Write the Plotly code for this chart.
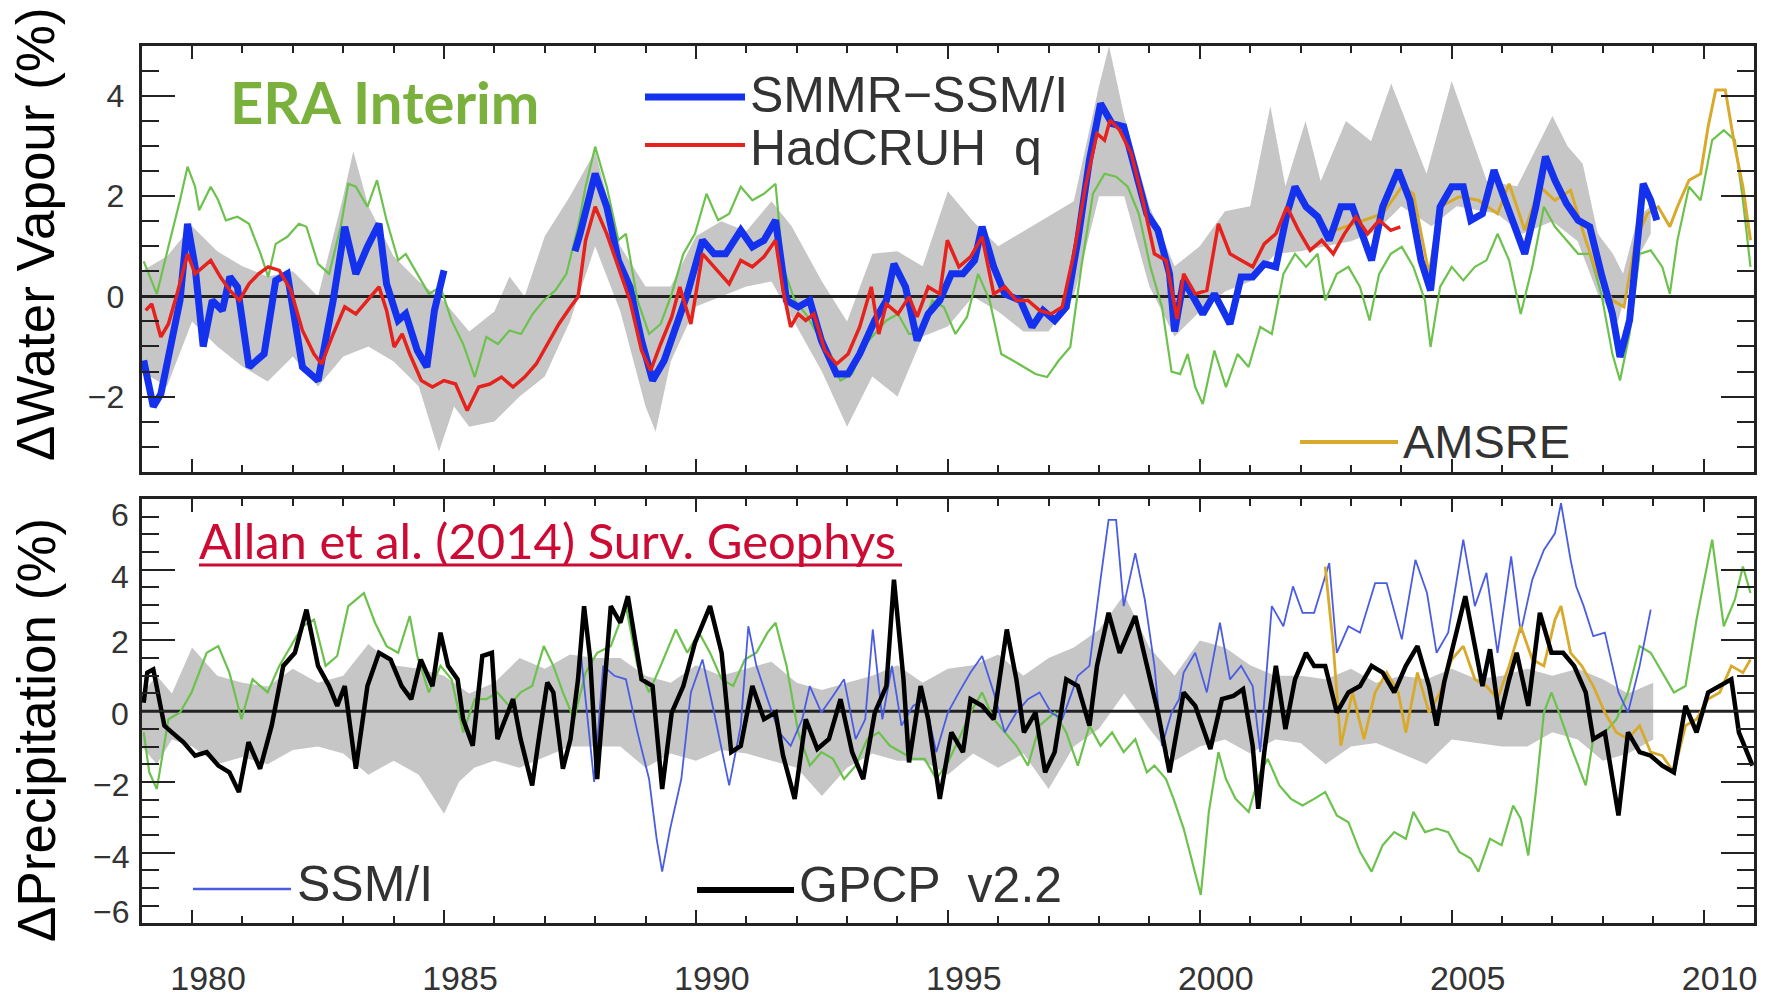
import plotly.graph_objects as go

# ---------------- DATA ----------------
# Top panel: water vapour anomalies (%)
wv_smmr_x = [1979.04, 1979.23, 1979.38, 1979.53, 1979.76, 1979.91, 1980.06, 1980.22, 1980.40, 1980.60, 1980.75, 1980.90,
             1981.13, 1981.43, 1981.66, 1981.89, 1982.19, 1982.50, 1982.80, 1983.03, 1983.25, 1983.48, 1983.71, 1983.86,
             1984.09, 1984.24, 1984.47, 1984.66, 1984.81, 1985.00, None,
             1987.60, 1987.70, 1988.00, 1988.23, 1988.46, 1988.69, 1988.92, 1989.14, 1989.37, 1989.60, 1989.83, 1990.13,
             1990.36, 1990.59, 1990.89, 1991.12, 1991.35, 1991.58, 1991.80, 1992.03, 1992.26, 1992.49, 1992.79, 1993.02,
             1993.25, 1993.55, 1993.78, 1993.93, 1994.16, 1994.39, 1994.61, 1994.84, 1995.07, 1995.30, 1995.53, 1995.68,
             1995.91, 1996.13, 1996.44, 1996.67, 1996.89, 1997.12, 1997.35, 1997.58, 1997.81, 1998.03, 1998.26, 1998.49,
             1998.72, 1998.95, 1999.17, 1999.40, 1999.50, 1999.68, 1999.91, 2000.06, 2000.29, 2000.60, 2000.82, 2001.05,
             2001.28, 2001.51, 2001.73, 2001.89, 2002.11, 2002.34, 2002.57, 2002.80, 2003.03, 2003.26, 2003.41, 2003.63,
             2003.94, 2004.17, 2004.39, 2004.58, 2004.77, 2005.00, 2005.23, 2005.38, 2005.61, 2005.84, 2006.07, 2006.29,
             2006.45, 2006.67, 2006.86, 2007.05, 2007.28, 2007.51, 2007.74, 2007.97, 2008.19, 2008.34, 2008.53, 2008.69,
             2008.80, 2008.95, 2009.07]
wv_smmr_y = [-1.28, -2.2, -1.95, -1.15, -0.08, 1.45, 0.59, -1.0, -0.08, -0.28, 0.39, 0.19,
             -1.41, -1.15, 0.32, 0.45, -1.41, -1.68, -0.08, 1.39, 0.45, 0.99, 1.45, 0.25,
             -0.48, -0.35, -1.08, -1.41, -0.28, 0.52, None,
             0.9, 1.25, 2.45, 1.79, 0.72, 0.19, -0.88, -1.68, -1.28, -0.61, 0.05, 1.12,
             0.85, 0.85, 1.32, 0.99, 1.12, 1.52, -0.08, -0.21, -0.08, -0.88, -1.55, -1.55,
             -1.15, -0.48, -0.08, 0.65, 0.19, -0.88, -0.35, -0.08, 0.45, 0.45, 0.72, 1.39,
             0.59, 0.05, -0.08, -0.61, -0.28, -0.48, -0.21, 1.12, 2.72, 3.85, 3.45, 3.39,
             2.45, 1.65, 1.32, 0.45, -0.70, 0.32, -0.08, -0.35, 0.05, -0.55, 0.39, 0.39,
             0.65, 0.59, 1.65, 2.19, 1.79, 1.59, 1.12, 1.79, 1.79, 1.12, 0.72, 1.79,
             2.52, 1.92, 0.72, 0.12, 1.79, 2.19, 2.19, 1.52, 1.65, 2.52, 1.92, 1.25,
             0.85, 1.79, 2.79, 2.32, 1.85, 1.52, 1.39, 0.45, -0.35, -1.21, -0.48, 1.12,
             2.25, 1.92, 1.52]

wv_hadcruh_x = [1979.08, 1979.20, 1979.38, 1979.53, 1979.72, 1979.91, 1980.06, 1980.22, 1980.37, 1980.56, 1980.75, 1980.94,
                1981.13, 1981.32, 1981.51, 1981.73, 1981.96, 1982.19, 1982.42, 1982.57, 1982.80, 1983.03, 1983.25, 1983.48,
                1983.71, 1983.86, 1984.01, 1984.17, 1984.32, 1984.55, 1984.77, 1985.00, 1985.23, 1985.46, 1985.69, 1985.91,
                1986.14, 1986.37, 1986.60, 1986.83, 1987.05, 1987.28, 1987.51, 1987.66, 1987.81, 1988.00, 1988.23, 1988.46,
                1988.69, 1988.92, 1989.10, 1989.30, 1989.52, 1989.68, 1989.90, 1990.13, 1990.36, 1990.66, 1990.89, 1991.12,
                1991.35, 1991.58, 1991.73, 1991.88, 1992.03, 1992.18, 1992.34, 1992.56, 1992.79, 1993.02, 1993.25, 1993.48,
                1993.63, 1993.78, 1994.01, 1994.23, 1994.39, 1994.61, 1994.84, 1994.99, 1995.22, 1995.45, 1995.68, 1995.91,
                1996.13, 1996.36, 1996.59, 1996.82, 1997.05, 1997.27, 1997.50, 1997.73, 1997.96, 1998.11, 1998.22, 1998.41,
                1998.64, 1998.87, 1999.10, 1999.33, 1999.55, 1999.68, 1999.91, 2000.14, 2000.37, 2000.60, 2000.82, 2001.05,
                2001.28, 2001.51, 2001.73, 2001.96, 2002.19, 2002.42, 2002.65, 2002.87, 2003.10, 2003.33, 2003.56, 2003.79,
                2003.98]
wv_hadcruh_y = [-0.28, -0.15, -0.81, -0.55, 0.12, 0.85, 0.45, 0.59, 0.72, 0.39, 0.12, -0.08,
                0.25, 0.45, 0.59, 0.52, 0.12, -0.68, -1.15, -1.35, -0.75, -0.21, -0.35, -0.08,
                0.19, -0.28, -1.01, -0.75, -1.15, -1.68, -1.81, -1.68, -1.75, -2.28, -1.81, -1.75,
                -1.61, -1.81, -1.61, -1.35, -0.95, -0.55, -0.21, -0.01, 1.12, 1.79, 1.25, 0.59,
                -0.08, -1.08, -1.48, -0.95, -0.41, 0.19, -0.55, 0.85, 0.59, 0.25, 0.72, 0.59,
                0.79, 1.12, 0.12, -0.61, -0.35, -0.48, -0.35, -1.08, -1.35, -1.15, -0.61, 0.19,
                -0.75, -0.15, -0.35, -0.01, -0.41, 0.19, 0.05, 1.12, 0.59, 0.79, 1.19, 0.05,
                0.19, -0.08, -0.08, -0.28, -0.35, -0.21, 0.85, 2.19, 3.25, 3.12, 3.52, 3.32,
                2.85, 1.92, 0.85, 0.72, -0.45, 0.45, 0.05, 0.12, 1.45, 0.85, 0.72, 0.59,
                1.05, 1.25, 1.79, 1.32, 0.92, 1.12, 0.85, 1.25, 1.59, 1.25, 1.52, 1.32,
                1.39]

wv_era_x = [1979.04, 1979.30, 1979.53, 1979.76, 1979.91, 1980.06, 1980.14, 1980.37, 1980.52, 1980.67, 1980.90, 1981.13,
            1981.36, 1981.51, 1981.66, 1981.89, 1982.12, 1982.27, 1982.50, 1982.72, 1982.95, 1983.10, 1983.25, 1983.48,
            1983.67, 1983.86, 1984.09, 1984.24, 1984.47, 1984.70, 1984.93, 1985.15, 1985.38, 1985.61, 1985.84, 1986.07,
            1986.30, 1986.53, 1986.76, 1986.98, 1987.21, 1987.43, 1987.66, 1987.81, 1988.00, 1988.23, 1988.46, 1988.61,
            1988.84, 1989.07, 1989.30, 1989.52, 1989.75, 1989.98, 1990.21, 1990.44, 1990.66, 1990.89, 1991.12, 1991.35,
            1991.58, 1991.73, 1991.96, 1992.18, 1992.41, 1992.64, 1992.87, 1993.10, 1993.32, 1993.55, 1993.78, 1994.01,
            1994.23, 1994.46, 1994.69, 1994.92, 1995.15, 1995.38, 1995.60, 1995.83, 1996.06, 1996.29, 1996.51, 1996.74,
            1996.97, 1997.20, 1997.43, 1997.65, 1997.88, 1998.11, 1998.34, 1998.57, 1998.79, 1999.02, 1999.25, 1999.44,
            1999.61, 1999.76, 1999.91, 2000.06, 2000.29, 2000.52, 2000.75, 2000.97, 2001.20, 2001.43, 2001.66, 2001.89,
            2002.11, 2002.34, 2002.49, 2002.72, 2002.95, 2003.18, 2003.37, 2003.56, 2003.79, 2004.01, 2004.24, 2004.47,
            2004.58, 2004.77, 2005.00, 2005.23, 2005.46, 2005.69, 2005.91, 2006.14, 2006.37, 2006.60, 2006.83, 2007.05,
            2007.28, 2007.51, 2007.74, 2007.97, 2008.19, 2008.34, 2008.53, 2008.73, 2008.95, 2009.18, 2009.33, 2009.48,
            2009.71, 2009.94, 2010.17, 2010.40, 2010.62, 2010.78, 2010.93]
wv_era_y = [0.70, 0.05, 0.99, 1.92, 2.59, 2.19, 1.72, 2.19, 1.92, 1.52, 1.59, 1.45,
            0.85, 0.39, 1.05, 1.19, 1.45, 1.39, 0.65, 0.45, 1.39, 2.25, 2.19, 1.79,
            2.32, 1.52, 0.72, 0.85, 0.45, 0.05, 0.19, -0.48, -0.95, -1.61, -0.81, -0.95,
            -0.68, -0.75, -0.35, -0.08, 0.12, 0.45, 1.39, 2.19, 2.99, 2.19, 1.12, 1.25,
            -0.08, -0.75, -0.55, 0.05, 0.85, 1.25, 2.05, 1.52, 1.65, 2.19, 1.92, 2.05,
            2.25, 0.59, -0.08, -0.35, -0.75, -1.28, -1.68, -1.55, -1.01, -0.75, -0.48, -0.35,
            -0.75, -0.75, -0.08, -0.21, -0.75, -0.41, 0.45, -0.08, -1.15, -1.28, -1.41, -1.55,
            -1.61, -1.28, -1.01, 0.59, 2.05, 2.45, 2.39, 2.19, 1.65, 0.59, -0.21, -1.50,
            -1.55, -1.15, -1.81, -2.15, -1.08, -1.81, -1.15, -1.41, -0.61, -0.75, 0.45, 0.85,
            0.59, 0.85, -0.08, 0.45, 0.59, 0.19, -0.48, 0.45, 0.85, 0.99, 0.59, -0.08,
            -1.01, 0.19, 0.59, 0.32, 0.59, 0.72, 1.25, 0.72, -0.35, 0.59, 1.79, 1.39,
            1.12, 0.85, 0.85, 0.05, -1.15, -1.68, -0.75, 0.85, 0.92, 0.59, 0.05, 1.12,
            2.19, 1.92, 3.12, 3.32, 3.12, 1.92, 0.59]

wv_amsre_x = [2002.49, 2002.87, 2003.26, 2003.63, 2004.01, 2004.24, 2004.55, 2004.77, 2005.15, 2005.53, 2005.91, 2006.14,
              2006.45, 2006.75, 2007.05, 2007.36, 2007.66, 2007.89, 2008.19, 2008.42, 2008.65, 2008.88, 2009.10, 2009.33,
              2009.48, 2009.71, 2009.94, 2010.09, 2010.24, 2010.43, 2010.62, 2010.78, 2010.93]
wv_amsre_y = [1.25, 1.39, 1.52, 1.65, 2.19, 2.05, 0.45, 1.79, 1.99, 1.92, 1.65, 2.25,
              1.32, 2.19, 1.92, 2.12, 1.12, 0.45, -0.08, -0.21, 1.12, 1.65, 1.79, 1.39,
              1.79, 2.32, 2.45, 3.39, 4.12, 4.12, 2.99, 2.19, 1.12]

wv_model_hi_x = [1979.0, 1979.5, 1980.0, 1980.5, 1981.0, 1981.5, 1982.0, 1982.5, 1983.0, 1983.2, 1983.5, 1984.0,
                 1984.5, 1985.0, 1985.5, 1986.0, 1986.3, 1986.6, 1987.0, 1987.5, 1988.0, 1988.5, 1989.0, 1989.5,
                 1990.0, 1990.5, 1991.0, 1991.5, 1991.9, 1992.5, 1993.0, 1993.5, 1994.0, 1994.5, 1995.0, 1995.5,
                 1996.0, 1996.5, 1997.0, 1997.5, 1998.0, 1998.2, 1998.5, 1999.0, 1999.5, 2000.0, 2000.5, 2001.0,
                 2001.4, 2001.7, 2002.1, 2002.4, 2002.9, 2003.4, 2003.8, 2004.5, 2005.0, 2005.7, 2006.3, 2007.0,
                 2007.3, 2007.6, 2007.9, 2008.2, 2008.4, 2008.7, 2008.95]
wv_model_hi_y = [0.5, 0.8, 1.4, 0.9, 0.6, 0.4, 0.5, 0.0, 2.0, 2.9, 1.8, 0.8,
                 0.3, -0.1, -0.7, -0.3, 0.4, 0.0, 1.2, 2.0, 2.9, 1.0, 0.2, 0.2,
                 1.2, 1.5, 1.3, 1.9, 1.4, 0.3, -0.5, 0.85, 0.9, 0.6, 2.1, 1.5,
                 1.0, 1.3, 1.6, 1.9, 4.2, 5.0, 3.6, 1.8, 0.6, 1.0, 1.7, 1.8,
                 3.8, 2.2, 3.5, 2.3, 3.5, 3.1, 4.25, 2.45, 4.3, 2.3, 2.2, 3.6,
                 3.0, 2.65, 1.25, 0.85, 0.45, 1.6, 1.8]
wv_model_lo_x = [1979.0, 1979.5, 1980.0, 1980.5, 1981.0, 1981.5, 1982.0, 1982.5, 1983.0, 1983.5, 1984.0, 1984.5,
                 1984.9, 1985.2, 1985.5, 1986.0, 1986.5, 1987.0, 1987.5, 1988.0, 1988.5, 1989.0, 1989.2, 1989.5,
                 1990.0, 1990.5, 1991.0, 1991.5, 1992.0, 1992.5, 1993.0, 1993.5, 1994.0, 1994.5, 1995.0, 1995.5,
                 1996.0, 1996.5, 1997.0, 1997.5, 1998.0, 1998.5, 1999.0, 1999.5, 2000.0, 2000.5, 2001.0, 2001.5,
                 2002.0, 2002.5, 2003.0, 2003.5, 2004.0, 2004.6, 2005.1, 2005.9, 2006.4, 2007.0, 2007.5, 2007.9,
                 2008.3, 2008.6, 2008.95]
wv_model_lo_y = [-1.5, -1.8, -0.5, -1.0, -1.4, -1.7, -1.2, -1.8, -1.2, -1.0, -1.3, -1.8,
                 -3.1, -2.2, -2.6, -2.5, -2.0, -1.6, -0.5, 1.0, -0.3, -2.2, -2.7, -1.3,
                 -0.2, 0.0, 0.2, 0.3, -0.6, -1.5, -2.6, -1.6, -2.0, -0.8, -0.6, 0.0,
                 -0.3, -0.7, -0.7, 0.0, 2.0, 2.0, 0.2, -0.8, -0.3, 0.1, 0.3, 0.85,
                 0.9, 1.0, 1.1, 1.3, 1.8, 1.4, 1.8, 1.65, 1.25, 1.5, 1.1, 0.05,
                 -0.5, 0.6, 1.25]

# Bottom panel: precipitation anomalies (%)
pr_gpcp_x = [1979.04, 1979.11, 1979.23, 1979.34, 1979.45, 1979.60, 1979.83, 1980.06, 1980.29, 1980.52, 1980.74, 1980.93,
             1981.12, 1981.35, 1981.58, 1981.81, 1982.04, 1982.27, 1982.50, 1982.72, 1982.88, 1983.03, 1983.25, 1983.48,
             1983.71, 1983.94, 1984.16, 1984.35, 1984.54, 1984.77, 1984.93, 1985.08, 1985.27, 1985.38, 1985.57, 1985.76,
             1985.95, 1986.06, 1986.22, 1986.37, 1986.52, 1986.75, 1986.90, 1987.05, 1987.17, 1987.36, 1987.51, 1987.66,
             1987.78, 1987.90, 1988.04, 1988.31, 1988.50, 1988.65, 1988.92, 1989.14, 1989.33, 1989.52, 1989.75, 1989.98,
             1990.28, 1990.51, 1990.70, 1990.89, 1991.12, 1991.35, 1991.58, 1991.73, 1991.96, 1992.18, 1992.41, 1992.64,
             1992.87, 1993.10, 1993.32, 1993.55, 1993.78, 1993.93, 1994.12, 1994.23, 1994.46, 1994.61, 1994.84, 1995.07,
             1995.30, 1995.45, 1995.68, 1995.91, 1996.17, 1996.36, 1996.51, 1996.74, 1996.93, 1997.12, 1997.35, 1997.58,
             1997.81, 1997.96, 1998.19, 1998.41, 1998.72, 1998.95, 1999.17, 1999.40, 1999.55, 1999.68, 1999.91, 2000.21,
             2000.44, 2000.67, 2000.86, 2001.05, 2001.16, 2001.28, 2001.51, 2001.70, 2001.89, 2002.11, 2002.27, 2002.49,
             2002.72, 2002.95, 2003.18, 2003.41, 2003.63, 2003.86, 2004.09, 2004.32, 2004.55, 2004.70, 2004.85, 2005.08,
             2005.27, 2005.46, 2005.61, 2005.76, 2005.95, 2006.14, 2006.29, 2006.52, 2006.75, 2006.98, 2007.21, 2007.43,
             2007.66, 2007.81, 2008.04, 2008.31, 2008.50, 2008.73, 2008.95, 2009.18, 2009.41, 2009.64, 2009.86, 2010.09,
             2010.32, 2010.55, 2010.70, 2010.85, 2010.97]
pr_gpcp_y = [0.24, 1.09, 1.18, 0.34, -0.41, -0.60, -0.88, -1.26, -1.16, -1.54, -1.73, -2.29,
             -0.88, -1.63, -0.41, 1.28, 1.65, 2.87, 1.28, 0.71, 0.15, 0.71, -1.63, 0.71,
             1.65, 1.46, 0.71, 0.34, 1.46, 0.71, 2.22, 1.28, 0.90, -0.23, -0.98, 1.56,
             1.65, -0.79, -0.23, 0.34, -0.79, -2.10, -0.60, 0.81, 0.53, -1.63, -0.79, 0.90,
             2.97, 1.50, -1.92, 2.97, 2.50, 3.25, 0.90, 0.71, -2.20, -0.04, 0.71, 1.93,
             2.97, 1.65, -1.16, -0.98, 0.71, -0.23, -0.04, -1.26, -2.48, -0.23, -1.07, -0.79,
             0.34, -1.16, -1.92, -0.04, 0.71, 3.72, 0.90, -1.45, 0.71, -0.23, -2.48, -0.60,
             -1.16, 0.34, 0.15, -0.23, 2.31, 0.90, -0.60, -0.04, -1.73, -1.16, 0.90, 0.71,
             -0.41, 1.28, 2.78, 1.65, 2.69, 1.28, -0.04, -1.73, -0.60, 0.53, 0.15, -1.07,
             0.34, 0.43, 0.62, -0.98, -2.76, -1.16, 1.28, -0.51, 0.90, 1.65, 1.28, 1.28,
             -0.04, 0.53, 0.71, 1.28, 1.09, 0.53, 1.28, 1.84, 0.71, -0.41, 0.81, 2.22,
             3.25, 1.84, 0.71, 1.75, -0.23, 0.90, 1.65, 0.15, 2.78, 1.65, 1.65, 1.28,
             0.53, -0.79, -0.60, -2.95, -0.60, -1.16, -1.26, -1.54, -1.73, 0.15, -0.60, 0.53,
             0.71, 0.90, -0.60, -1.16, -1.54]

pr_ssmi_x = [1987.70, 1987.98, 1988.16, 1988.38, 1988.61, 1988.84, 1989.07, 1989.22, 1989.33, 1989.49, 1989.71, 1989.90,
             1990.13, 1990.36, 1990.66, 1990.89, 1991.04, 1991.20, 1991.42, 1991.65, 1991.88, 1992.11, 1992.26, 1992.49,
             1992.72, 1992.94, 1993.17, 1993.36, 1993.51, 1993.70, 1993.89, 1994.08, 1994.31, 1994.54, 1994.77, 1995.00,
             1995.22, 1995.45, 1995.68, 1995.91, 1996.13, 1996.36, 1996.59, 1996.82, 1997.05, 1997.27, 1997.58, 1997.81,
             1998.03, 1998.19, 1998.34, 1998.49, 1998.72, 1998.91, 1999.10, 1999.25, 1999.44, 1999.59, 1999.68, 1999.91,
             2000.14, 2000.40, 2000.60, 2000.82, 2001.05, 2001.20, 2001.43, 2001.66, 2001.85, 2002.04, 2002.27, 2002.46,
             2002.57, 2002.72, 2002.95, 2003.18, 2003.48, 2003.71, 2004.01, 2004.28, 2004.51, 2004.70, 2004.93, 2005.23,
             2005.46, 2005.69, 2005.91, 2006.18, 2006.37, 2006.60, 2006.83, 2007.05, 2007.17, 2007.36, 2007.47, 2007.62,
             2007.81, 2008.04, 2008.31, 2008.50, 2008.73, 2008.95]
pr_ssmi_y = [1.84, -2.0, 1.28, 1.0, 0.9, -0.6, -1.92, -3.61, -4.54, -3.32, -1.92, 0.53,
             1.46, -0.04, -2.10, -0.41, 2.40, 1.28, 0.34, -0.60, -0.98, -0.23, 0.71, -0.04,
             0.43, 0.90, -0.79, -0.23, 2.31, -0.23, 1.28, -0.41, 0.15, 0.34, -1.16, -0.04,
             0.53, 1.09, 1.56, 0.53, -0.60, -0.04, 0.34, 0.53, -0.04, -0.23, 1.00, 1.28,
             3.72, 5.41, 5.41, 2.97, 4.47, 3.15, 1.28, -0.98, -0.04, 0.34, 1.09, 1.65,
             0.53, 2.50, 0.90, 1.28, 0.71, -1.16, 2.97, 2.40, 3.53, 2.78, 2.78, 3.72,
             4.19, 1.65, 2.40, 2.22, 3.62, 3.62, 2.03, 4.28, 3.34, 1.65, 2.22, 4.85,
             2.97, 3.91, 1.65, 4.38, 2.22, 3.72, 4.56, 5.03, 5.88, 4.28, 3.53, 2.97,
             2.12, 2.22, 0.53, -0.04, 1.28, 2.87]

pr_era_x = [1979.04, 1979.15, 1979.30, 1979.53, 1979.76, 1979.99, 1980.29, 1980.52, 1980.74, 1980.98, 1981.20, 1981.50,
            1981.73, 1981.96, 1982.19, 1982.42, 1982.65, 1982.88, 1983.10, 1983.41, 1983.63, 1983.86, 1984.09, 1984.32,
            1984.47, 1984.70, 1984.93, 1985.15, 1985.38, 1985.61, 1985.84, 1986.06, 1986.29, 1986.52, 1986.75, 1986.98,
            1987.17, 1987.36, 1987.58, 1987.81, 1988.04, 1988.31, 1988.61, 1988.84, 1989.07, 1989.30, 1989.60, 1989.83,
            1990.06, 1990.28, 1990.51, 1990.74, 1990.97, 1991.20, 1991.42, 1991.58, 1991.80, 1992.03, 1992.26, 1992.49,
            1992.72, 1992.94, 1993.17, 1993.40, 1993.63, 1993.85, 1994.08, 1994.31, 1994.54, 1994.77, 1995.00, 1995.22,
            1995.45, 1995.68, 1995.91, 1996.13, 1996.36, 1996.59, 1996.82, 1997.12, 1997.35, 1997.58, 1997.81, 1998.03,
            1998.26, 1998.49, 1998.72, 1998.95, 1999.10, 1999.33, 1999.48, 1999.68, 1999.91, 2000.02, 2000.18, 2000.37,
            2000.52, 2000.71, 2000.97, 2001.20, 2001.35, 2001.58, 2001.81, 2002.04, 2002.27, 2002.49, 2002.72, 2002.95,
            2003.18, 2003.41, 2003.63, 2003.86, 2004.09, 2004.24, 2004.47, 2004.70, 2004.93, 2005.15, 2005.38, 2005.53,
            2005.76, 2005.99, 2006.22, 2006.37, 2006.52, 2006.67, 2006.83, 2006.98, 2007.13, 2007.36, 2007.66, 2007.81,
            2008.04, 2008.27, 2008.50, 2008.73, 2008.95, 2009.18, 2009.41, 2009.64, 2009.86, 2010.17, 2010.40, 2010.62,
            2010.78, 2010.93]
pr_era_y = [-0.60, -1.73, -2.20, -0.23, -0.04, 0.53, 1.65, 1.84, 1.09, -0.23, 0.90, 0.53,
            1.28, 1.84, 2.40, 2.59, 1.28, 1.56, 2.97, 3.34, 2.50, 1.84, 1.65, 2.69,
            1.56, 0.53, 1.28, 0.90, -0.60, 0.34, 0.34, 0.53, 0.15, 0.53, 0.71, 1.84,
            1.28, 0.53, -0.23, 1.09, 1.65, 1.84, 2.97, 1.28, 0.53, 1.28, 2.31, 1.65,
            2.22, 1.65, 0.90, 0.71, 1.46, 1.65, 2.22, 2.50, 1.28, -0.60, -1.54, -1.16,
            -1.35, -1.92, -1.54, -0.79, -0.60, -0.98, -1.16, -1.35, -1.35, -1.92, -1.45, -0.79,
            -0.04, 0.53, -0.23, -0.60, -0.98, -1.54, -0.41, -0.04, -0.60, -1.54, -0.41, -0.98,
            -0.60, -1.16, -0.79, -1.73, -1.54, -1.92, -2.48, -3.32, -4.54, -5.20, -2.85, -1.16,
            -1.92, -2.48, -2.85, -1.73, -1.35, -2.10, -2.48, -2.67, -2.48, -2.29, -2.95, -3.14,
            -3.98, -4.54, -3.79, -3.42, -3.61, -2.85, -3.42, -3.32, -3.42, -3.98, -4.17, -4.54,
            -3.61, -3.79, -2.67, -3.04, -4.08, -2.29, -0.04, 0.53, -0.04, -0.98, -2.10, -0.79,
            -0.60, -0.23, 0.53, 1.84, 1.65, 1.09, 0.53, 0.71, 2.59, 4.85, 2.40, 3.15,
            4.09, 3.34]

pr_amsre_x = [2002.49, 2002.65, 2002.80, 2003.03, 2003.26, 2003.48, 2003.71, 2003.94, 2004.09, 2004.32, 2004.55, 2004.77,
              2005.00, 2005.23, 2005.46, 2005.69, 2005.91, 2006.14, 2006.37, 2006.60, 2006.83, 2007.05, 2007.17, 2007.36,
              2007.58, 2007.81, 2008.04, 2008.27, 2008.50, 2008.73, 2008.95, 2009.18, 2009.41, 2009.64, 2009.86, 2010.09,
              2010.32, 2010.55, 2010.78, 2010.93]
pr_amsre_y = [4.09, 1.84, -0.98, 0.53, -0.79, 0.53, 1.09, 0.53, -0.60, 1.09, -0.04, 0.53,
              1.46, 1.84, 0.90, 0.71, 0.34, 1.28, 2.40, 1.46, 1.28, 2.59, 2.97, 1.65,
              1.28, 0.71, -0.04, -0.60, -0.79, -0.41, -1.16, -1.26, -1.73, -0.41, -0.23, 0.34,
              0.53, 1.28, 1.09, 1.46]

pr_model_hi_x = [1979.0, 1979.3, 1979.6, 1980.0, 1980.5, 1981.0, 1981.5, 1982.0, 1982.5, 1983.0, 1983.5, 1984.0,
                 1984.5, 1985.0, 1985.5, 1986.0, 1986.5, 1987.0, 1987.5, 1988.0, 1988.5, 1989.0, 1989.5, 1990.0,
                 1990.5, 1991.0, 1991.5, 1992.0, 1992.5, 1993.0, 1993.5, 1994.0, 1994.5, 1995.0, 1995.5, 1996.0,
                 1996.5, 1997.0, 1997.5, 1998.0, 1998.5, 1999.0, 1999.5, 2000.0, 2000.5, 2001.0, 2001.5, 2002.0,
                 2002.5, 2003.0, 2003.5, 2004.0, 2004.5, 2005.0, 2005.5, 2006.0, 2006.5, 2007.0, 2007.5, 2008.0,
                 2008.5, 2009.0]
pr_model_hi_y = [0.5, 1.0, 0.5, 1.8, 1.0, 0.8, 0.7, 1.2, 0.8, 1.0, 1.9, 1.3,
                 1.2, 1.0, 0.5, 0.8, 1.5, 1.2, 1.6, 1.5, 1.5, 1.0, 0.8, 1.3,
                 1.0, 1.2, 1.4, 0.8, 0.6, 0.8, 1.0, 1.3, 0.8, 1.2, 1.3, 1.6,
                 1.0, 1.5, 1.8, 2.3, 3.3, 1.8, 1.0, 2.0, 1.8, 1.3, 1.0, 1.0,
                 0.9, 1.2, 0.8, 1.0, 0.9, 1.2, 0.9, 1.0, 1.2, 1.0, 1.2, 0.9,
                 0.5, 0.8]
pr_model_lo_x = [1979.0, 1979.3, 1979.6, 1980.0, 1980.5, 1981.0, 1981.5, 1982.0, 1982.5, 1983.0, 1983.5, 1984.0,
                 1984.5, 1985.0, 1985.3, 1985.6, 1986.0, 1986.5, 1987.0, 1987.5, 1988.0, 1988.5, 1989.0, 1989.5,
                 1990.0, 1990.5, 1991.0, 1991.5, 1992.0, 1992.5, 1993.0, 1993.5, 1994.0, 1994.5, 1995.0, 1995.5,
                 1996.0, 1996.5, 1997.0, 1997.5, 1998.0, 1998.5, 1999.0, 1999.5, 2000.0, 2000.5, 2001.0, 2001.5,
                 2002.0, 2002.5, 2003.0, 2003.5, 2004.0, 2004.5, 2005.0, 2005.5, 2006.0, 2006.5, 2007.0, 2007.5,
                 2008.0, 2008.5, 2009.0]
pr_model_lo_y = [-1.0, -1.5, -0.8, -1.0, -1.5, -1.3, -1.5, -1.1, -1.0, -1.2, -1.8, -1.4,
                 -1.8, -2.9, -2.0, -1.6, -1.4, -1.6, -1.3, -1.0, -1.0, -1.0, -1.6, -1.2,
                 -1.4, -1.1, -1.2, -1.4, -1.6, -2.4, -1.6, -1.2, -1.4, -1.4, -1.8, -1.2,
                 -1.6, -1.2, -2.2, -1.0, -0.5, 0.5, -0.5, -1.4, -1.0, -0.8, -1.2, -0.8,
                 -0.9, -1.5, -1.0, -0.9, -1.2, -1.5, -0.8, -0.9, -1.0, -1.0, -0.6, -0.8,
                 -1.4, -1.2, -0.8]

x_range = [1979, 2011]
wv_range = [-3.5, 5]
pr_range = [-6, 6]
pr_tick_vals = [6, 4, 2, 0, -2, -4, -6]
pr_tick_text = ["6", "4", "2", "0", "−2", "−4", "−6"]

# ---------------- STYLE ----------------
W, H = 1772, 1002
def px(xp):
    return xp / W
def py(yp):
    return 1 - yp / H

GRAY = "#c6c6c6"
GREEN = "#6cc24d"
BLUE_T = "#1432ee"
RED = "#e5221d"
GOLD = "#d8aa2c"
BLUE_B = "#4a5de2"
AXC = "#222222"

fig = go.Figure()

def band(xh, yh, xl, yl, xa, ya):
    fig.add_trace(go.Scatter(x=list(xh) + list(xl)[::-1], y=list(yh) + list(yl)[::-1],
                             fill="toself", fillcolor=GRAY, line=dict(width=0),
                             mode="lines", hoverinfo="skip", showlegend=False, xaxis=xa, yaxis=ya))

def line(x, y, color, width, xa, ya):
    fig.add_trace(go.Scatter(x=x, y=y, mode="lines", line=dict(color=color, width=width),
                             connectgaps=False, showlegend=False, xaxis=xa, yaxis=ya))

# top panel
band(wv_model_hi_x, wv_model_hi_y, wv_model_lo_x, wv_model_lo_y, "x", "y")
line(x_range, [0, 0], AXC, 3, "x", "y")
line(wv_era_x, wv_era_y, GREEN, 2.2, "x", "y")
line(wv_amsre_x, wv_amsre_y, GOLD, 3, "x", "y")
line(wv_smmr_x, wv_smmr_y, BLUE_T, 7, "x", "y")
line(wv_hadcruh_x, wv_hadcruh_y, RED, 3.5, "x", "y")

# bottom panel
band(pr_model_hi_x, pr_model_hi_y, pr_model_lo_x, pr_model_lo_y, "x2", "y2")
line(x_range, [0, 0], AXC, 3, "x2", "y2")
line(pr_era_x, pr_era_y, GREEN, 2.2, "x2", "y2")
line(pr_ssmi_x, pr_ssmi_y, BLUE_B, 1.8, "x2", "y2")
line(pr_amsre_x, pr_amsre_y, GOLD, 2.8, "x2", "y2")
line(pr_gpcp_x, pr_gpcp_y, "#000000", 4.5, "x2", "y2")

xdom = [px(141.7), px(1754)]
tickfont = dict(family="Liberation Sans, Arial, sans-serif", size=32, color="#333333")

common_x = dict(range=x_range, domain=xdom, showgrid=False, zeroline=False, automargin=False,
                showline=True, linecolor=AXC, linewidth=3, mirror="allticks",
                ticks="inside", tickmode="linear", tick0=1980, dtick=5, ticklen=13, tickwidth=2, tickcolor=AXC,
                minor=dict(ticks="inside", tickmode="linear", tick0=1980, dtick=1, ticklen=7, tickwidth=2, tickcolor=AXC,
                           showgrid=False))

common_y = dict(showgrid=False, zeroline=False, automargin=False,
                showline=True, linecolor=AXC, linewidth=3, mirror="allticks",
                ticks="inside", tickmode="linear", tick0=0, dtick=2, ticklen=33, tickwidth=2, tickcolor=AXC,
                minor=dict(ticks="inside", tickmode="linear", tick0=0, dtick=0.5, ticklen=17, tickwidth=2, tickcolor=AXC,
                           showgrid=False),
                tickfont=tickfont, ticklabelstandoff=8)

fig.update_layout(
    template="none",
    width=W, height=H, margin=dict(l=0, r=0, t=0, b=0, pad=0, autoexpand=False),
    paper_bgcolor="white", plot_bgcolor="white", showlegend=False,
    xaxis=dict(**common_x, anchor="y", showticklabels=False),
    xaxis2=dict(**common_x, anchor="y2", showticklabels=True,
                tickfont=dict(family="Liberation Sans, Arial, sans-serif", size=34, color="#333333"),
                ticklabelshift=16, ticklabelstandoff=23),
    yaxis=dict(**common_y, range=wv_range, domain=[py(471.7), py(46)], anchor="x"),
    yaxis2=dict(**common_y, range=pr_range, domain=[py(923.3), py(499)], anchor="x2", showticklabels=False),
)

ann = []
shapes = []
# precipitation tick labels (IDL draws the end labels pulled inside the frame)
pr_label_pos = [515, 577, 642, 714, 785, 857, 912]
for t, yp in zip(pr_tick_text, pr_label_pos):
    ann.append(dict(text=t, x=px(131), y=py(yp), xref="paper", yref="paper", showarrow=False,
                    xanchor="right", yanchor="middle", font=tickfont))

# axis titles
ann.append(dict(text="ΔWater Vapour (%)", x=px(36), y=py(234), xref="paper", yref="paper", textangle=-90,
                showarrow=False, xanchor="center", yanchor="middle",
                font=dict(family="Liberation Sans, Arial, sans-serif", size=53, color="#000000")))
ann.append(dict(text="ΔPrecipitation (%)", x=px(36), y=py(730), xref="paper", yref="paper", textangle=-90,
                showarrow=False, xanchor="center", yanchor="middle",
                font=dict(family="Liberation Sans, Arial, sans-serif", size=53, color="#000000")))
# panel labels
ann.append(dict(text="<b>ERA Interim</b>", x=px(228), y=py(101), xref="paper", yref="paper",
                showarrow=False, xanchor="left", yanchor="middle",
                font=dict(family="Lato, sans-serif", size=58, color="#79b13c")))
ann.append(dict(text="Allan et al. (2014) Surv. Geophys", x=px(197), y=py(540), xref="paper", yref="paper",
                showarrow=False, xanchor="left", yanchor="middle",
                font=dict(family="Lato, sans-serif", size=49, color="#cc0a33")))
shapes.append(dict(type="line", xref="paper", yref="paper", x0=px(199), x1=px(902), y0=py(565), y1=py(565),
                   line=dict(color="#cc0a33", width=3)))

# legends
legfont = dict(family="Liberation Sans, Arial, sans-serif", size=50, color="#333333")
def legend(x0, x1, yl, color, width, text, tx, ty, size=50):
    shapes.append(dict(type="line", xref="paper", yref="paper", x0=px(x0), x1=px(x1), y0=py(yl), y1=py(yl),
                       line=dict(color=color, width=width)))
    ann.append(dict(text=text, x=px(tx), y=py(ty), xref="paper", yref="paper", showarrow=False,
                    xanchor="left", yanchor="middle", font=dict(legfont, size=size)))

legend(645, 745, 97, BLUE_T, 7, "SMMR−SSM/I", 748, 95)
legend(645, 745, 145, RED, 4, "HadCRUH  q", 748, 148)
legend(1300, 1398, 442, GOLD, 4, "AMSRE", 1401, 441, 47)
legend(193, 291, 889, BLUE_B, 2.5, "SSM/I", 295, 884)
legend(697, 794, 890, "#000000", 6, "GPCP  v2.2", 797, 885)

fig.update_layout(annotations=ann, shapes=shapes)
fig.write_html("out.html")
